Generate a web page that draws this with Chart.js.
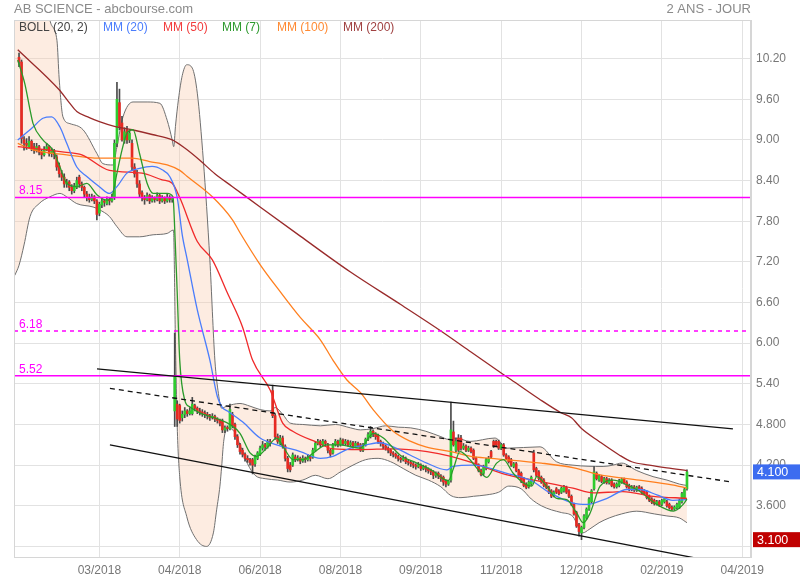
<!DOCTYPE html>
<html><head><meta charset="utf-8">
<script src="https://cdn.jsdelivr.net/npm/chart.js@4.4.1/dist/chart.umd.min.js"></script>
<style>html,body{margin:0;padding:0;background:#fff}#wrap{width:800px;height:580px}</style>
</head><body><div id="wrap"><canvas id="c" width="800" height="580"></canvas></div>
<script>
// ---------- DATA ----------
const title = 'AB SCIENCE - abcbourse.com';
const period = '2 ANS - JOUR';
const xTickDays = [34, 66, 98, 130, 162, 194, 226, 258, 290];
const xTickLabels = ['03/2018','04/2018','06/2018','08/2018','09/2018','11/2018','12/2018','02/2019','04/2019'];
const yTickValues = [3.0, 3.6, 4.2, 4.8, 5.4, 6.0, 6.6, 7.2, 7.8, 8.4, 9.0, 9.6, 10.2];
const yTickLabels = ['', '3.600', '4.200', '4.800', '5.40', '6.00', '6.60', '7.20', '7.80', '8.40', '9.00', '9.60', '10.20'];
const legendNames = ['BOLL (20, 2)', 'MM (20)', 'MM (50)', 'MM (7)', 'MM (100)', 'MM (200)'];
const legendColors = ['#444444', '#4a7dfc', '#f23b3b', '#2e9a2e', '#ff8a33', '#a04040'];

const firstDay = 2; // trading-day index of the first candle
const opens = [
 10.22,10.15,9.0,8.95,8.9,8.98,8.9,8.85,8.9,8.82,
 8.78,8.85,8.9,8.8,8.84,8.75,8.62,8.5,8.45,8.35,
 8.38,8.3,8.25,8.3,8.45,8.35,8.3,8.2,8.15,8.12,
 8.16,8.1,7.92,8.04,8.1,8.06,8.12,8.1,8.15,8.95,
 9.55,9.25,9.0,9.15,9.0,8.95,8.6,8.5,8.35,8.22,
 8.15,8.12,8.18,8.1,8.15,8.12,8.18,8.1,8.14,8.1,
 8.15,8.12,5.0,5.1,5.08,4.9,4.95,5.0,4.96,4.96,
 5.08,5.04,5.0,4.98,4.97,4.95,4.93,4.9,4.92,4.88,
 4.86,4.85,4.72,4.75,4.74,4.95,4.8,4.62,4.5,4.42,
 4.36,4.3,4.28,4.28,4.22,4.3,4.36,4.45,4.5,4.47,
 4.55,5.3,4.93,4.62,4.52,4.6,4.48,4.3,4.2,4.2,
 4.32,4.28,4.3,4.26,4.3,4.28,4.32,4.32,4.42,4.52,
 4.55,4.5,4.55,4.5,4.42,4.38,4.5,4.55,4.5,4.57,
 4.52,4.55,4.5,4.53,4.48,4.52,4.5,4.42,4.5,4.58,
 4.62,4.7,4.66,4.64,4.55,4.52,4.48,4.45,4.42,4.38,
 4.36,4.33,4.3,4.28,4.3,4.25,4.24,4.22,4.2,4.18,
 4.2,4.15,4.17,4.14,4.12,4.1,4.05,4.08,4.04,4.02,
 3.96,3.92,3.98,4.69,4.42,4.6,4.6,4.45,4.48,4.42,
 4.45,4.42,4.3,4.2,4.12,4.08,4.15,4.25,4.4,4.55,
 4.55,4.55,4.45,4.5,4.35,4.32,4.28,4.18,4.22,4.12,
 4.08,4.0,3.92,3.88,3.92,4.38,4.15,4.1,4.02,3.98,
 3.92,3.87,3.82,3.75,3.85,3.82,3.8,3.82,3.87,3.82,
 3.74,3.62,3.5,3.32,3.2,3.28,3.42,3.55,3.66,3.85,
 4.08,3.98,4.03,3.95,4.0,3.94,3.98,3.92,3.88,3.9,
 3.95,3.99,3.95,3.9,3.84,3.88,3.83,3.88,3.86,3.82,
 3.8,3.74,3.7,3.68,3.63,3.66,3.62,3.66,3.66,3.62,
 3.58,3.55,3.57,3.58,3.66,3.72,3.85
];
const highs = [
 10.28,10.18,9.05,9.02,9.05,9.0,8.95,8.95,8.92,8.86,
 8.9,8.95,8.92,8.88,8.86,8.78,8.66,8.55,8.5,8.42,
 8.4,8.34,8.36,8.45,8.48,8.38,8.32,8.24,8.2,8.2,
 8.18,8.12,8.08,8.14,8.12,8.16,8.14,8.2,9.0,9.85,
 9.75,9.35,9.18,9.2,9.15,9.0,8.65,8.55,8.4,8.25,
 8.18,8.22,8.2,8.18,8.16,8.22,8.2,8.18,8.16,8.2,
 8.18,8.16,6.15,5.15,5.1,5.0,5.05,5.02,5.05,5.2,
 5.1,5.06,5.04,5.02,5.0,4.98,4.95,4.96,4.94,4.9,
 4.88,4.88,4.78,4.78,5.1,4.98,4.82,4.65,4.52,4.45,
 4.38,4.34,4.3,4.3,4.35,4.4,4.48,4.55,4.52,4.58,
 4.58,5.38,4.96,4.66,4.64,4.63,4.5,4.33,4.24,4.38,
 4.35,4.34,4.32,4.34,4.32,4.36,4.34,4.45,4.55,4.58,
 4.57,4.58,4.57,4.52,4.44,4.52,4.58,4.57,4.6,4.59,
 4.58,4.57,4.56,4.55,4.55,4.54,4.52,4.52,4.6,4.68,
 4.77,4.72,4.68,4.66,4.57,4.54,4.5,4.47,4.44,4.4,
 4.38,4.35,4.32,4.34,4.32,4.28,4.26,4.24,4.22,4.24,
 4.22,4.2,4.19,4.16,4.14,4.12,4.1,4.1,4.06,4.04,
 3.98,3.98,5.13,4.85,4.6,4.65,4.64,4.52,4.5,4.48,
 4.47,4.44,4.32,4.22,4.14,4.2,4.3,4.33,4.42,4.57,
 4.57,4.57,4.52,4.52,4.37,4.34,4.3,4.24,4.24,4.14,
 4.1,4.02,3.94,3.97,4.04,4.42,4.17,4.12,4.04,4.0,
 3.94,3.89,3.84,3.82,3.87,3.84,3.88,3.9,3.89,3.84,
 3.76,3.64,3.52,3.34,3.3,3.47,3.57,3.72,3.84,4.18,
 4.1,4.06,4.05,4.02,4.02,4.0,4.0,3.94,3.94,3.99,
 4.01,4.01,3.97,3.92,3.9,3.9,3.89,3.9,3.88,3.84,
 3.82,3.76,3.72,3.7,3.68,3.68,3.7,3.72,3.68,3.64,
 3.6,3.6,3.64,3.7,3.8,3.86,4.13
];
const lows = [
 10.08,8.95,8.85,8.86,8.88,8.84,8.8,8.82,8.78,8.72,
 8.76,8.84,8.76,8.75,8.72,8.55,8.45,8.4,8.3,8.3,
 8.25,8.2,8.22,8.28,8.3,8.25,8.15,8.1,8.08,8.1,
 8.06,7.82,7.88,8.0,8.02,8.04,8.04,8.08,8.12,8.9,
 9.15,8.98,8.95,8.95,8.96,8.55,8.45,8.3,8.15,8.1,
 8.05,8.1,8.06,8.08,8.08,8.1,8.06,8.08,8.06,8.08,
 8.08,8.08,4.77,4.77,4.82,4.85,4.9,4.92,4.94,4.94,
 5.0,4.96,4.94,4.92,4.9,4.88,4.86,4.88,4.84,4.82,
 4.78,4.68,4.68,4.7,4.72,4.75,4.58,4.46,4.36,4.32,
 4.26,4.24,4.2,4.07,4.18,4.28,4.34,4.42,4.42,4.45,
 4.48,4.9,4.58,4.52,4.5,4.45,4.26,4.1,4.1,4.18,
 4.25,4.26,4.22,4.24,4.24,4.26,4.26,4.3,4.4,4.5,
 4.47,4.48,4.48,4.38,4.32,4.36,4.48,4.47,4.48,4.5,
 4.5,4.48,4.48,4.45,4.46,4.47,4.4,4.4,4.48,4.56,
 4.6,4.62,4.58,4.52,4.48,4.44,4.42,4.38,4.34,4.32,
 4.3,4.26,4.24,4.26,4.22,4.2,4.18,4.16,4.14,4.16,
 4.12,4.13,4.1,4.08,4.06,4.0,4.02,4.0,3.96,3.9,
 3.88,3.9,3.95,4.48,4.4,4.4,4.42,4.43,4.4,4.4,
 4.38,4.28,4.2,4.1,4.04,4.06,4.13,4.23,4.3,4.46,
 4.48,4.43,4.43,4.33,4.28,4.23,4.18,4.16,4.1,4.03,
 3.94,3.88,3.85,3.86,3.9,4.1,4.03,3.98,3.93,3.88,
 3.85,3.78,3.72,3.73,3.78,3.76,3.78,3.8,3.78,3.72,
 3.6,3.46,3.28,3.15,3.1,3.26,3.4,3.53,3.64,3.83,
 3.98,3.96,3.94,3.93,3.92,3.92,3.88,3.86,3.86,3.88,
 3.93,3.92,3.86,3.82,3.82,3.81,3.81,3.82,3.78,3.76,
 3.7,3.66,3.63,3.61,3.61,3.59,3.6,3.64,3.58,3.55,
 3.53,3.53,3.55,3.56,3.64,3.7,3.83
];
const closes = [
 10.15,9.02,8.95,8.92,8.98,8.88,8.85,8.9,8.82,8.78,
 8.85,8.9,8.8,8.84,8.78,8.6,8.5,8.45,8.35,8.38,
 8.3,8.25,8.32,8.4,8.35,8.3,8.2,8.15,8.12,8.16,
 8.1,7.9,8.05,8.1,8.08,8.12,8.1,8.15,8.95,9.6,
 9.2,9.0,9.12,9.0,9.1,8.6,8.5,8.35,8.2,8.15,
 8.12,8.18,8.1,8.15,8.12,8.18,8.1,8.14,8.1,8.15,
 8.12,8.12,5.5,4.88,4.86,4.95,5.0,4.96,5.0,5.1,
 5.04,5.0,4.98,4.97,4.95,4.93,4.9,4.92,4.88,4.86,
 4.82,4.72,4.75,4.74,5.02,4.78,4.62,4.5,4.4,4.36,
 4.3,4.28,4.24,4.2,4.32,4.38,4.45,4.5,4.47,4.55,
 4.52,4.93,4.62,4.55,4.6,4.48,4.3,4.15,4.13,4.35,
 4.28,4.3,4.26,4.3,4.28,4.32,4.3,4.42,4.52,4.55,
 4.5,4.55,4.52,4.42,4.36,4.5,4.55,4.5,4.57,4.52,
 4.55,4.5,4.53,4.48,4.52,4.5,4.42,4.5,4.58,4.65,
 4.7,4.66,4.62,4.55,4.52,4.48,4.45,4.42,4.38,4.36,
 4.33,4.3,4.28,4.3,4.25,4.24,4.22,4.2,4.18,4.2,
 4.15,4.17,4.14,4.12,4.1,4.05,4.08,4.04,4.0,3.95,
 3.92,3.96,4.72,4.5,4.55,4.42,4.45,4.48,4.42,4.45,
 4.4,4.3,4.22,4.12,4.06,4.18,4.28,4.3,4.32,4.48,
 4.5,4.45,4.5,4.35,4.3,4.25,4.2,4.22,4.12,4.05,
 3.96,3.9,3.87,3.95,4.02,4.13,4.05,4.0,3.95,3.9,
 3.87,3.8,3.74,3.8,3.8,3.78,3.86,3.88,3.8,3.74,
 3.62,3.48,3.3,3.22,3.28,3.45,3.55,3.7,3.82,4.1,
 4.0,4.04,3.96,4.0,3.94,3.98,3.9,3.88,3.92,3.97,
 3.99,3.94,3.88,3.84,3.88,3.83,3.87,3.84,3.8,3.78,
 3.72,3.68,3.65,3.63,3.66,3.61,3.68,3.7,3.6,3.57,
 3.55,3.58,3.62,3.68,3.78,3.84,4.1
];

// moving averages & bands, read as [day, value]
const mm7 = [[1.5,10.18],[4.3,9.83],[6.4,9.44],[7.6,9.24],[11.5,9.0],[15.5,8.85],[18.3,8.6],[21,8.36],[25,8.31],[29,8.36],[33,8.19],[37,8.11],[39,8.16],[41,8.51],[43,8.85],[45,9.1],[47.4,9.15],[50,8.8],[53,8.36],[55.4,8.21],[61,8.21],[63.3,8.16],[64.2,7.5],[65,6.74],[66,5.75],[68,5.16],[70,5.06],[74,4.97],[82,4.87],[86,4.8],[90,4.67],[94,4.38],[96.6,4.33],[100.6,4.45],[104.6,4.6],[107.2,4.47],[111.2,4.28],[115.2,4.28],[119.2,4.38],[124.5,4.5],[129.8,4.5],[137.8,4.45],[143.1,4.67],[147.1,4.6],[153.7,4.35],[160.4,4.23],[167,4.11],[170,4.02],[173,3.97],[175,4.15],[177.6,4.4],[181.6,4.28],[185.6,4.1],[188.3,4.02],[192.2,4.23],[194.9,4.28],[198.8,4.08],[202.8,3.94],[206.2,3.89],[208.2,4.03],[212.1,3.89],[216.1,3.71],[220.1,3.69],[224.1,3.49],[226.7,3.35],[229.4,3.49],[233.4,3.89],[238.7,3.98],[244,3.91],[249.3,3.81],[256,3.62],[262.6,3.52],[266.5,3.62],[268,3.7]];
const mm20 = [[1.5,9.0],[7.6,9.19],[11.5,9.32],[15,9.34],[18.3,9.19],[21,8.95],[25,8.6],[29,8.46],[34,8.31],[38,8.21],[41,8.31],[45,8.51],[50,8.58],[55,8.61],[59,8.56],[62,8.46],[65,8.15],[67,7.6],[69,7.23],[73,6.49],[78,5.75],[81,5.21],[83,5.05],[85,5.0],[91,4.84],[98,4.6],[104.6,4.5],[114,4.4],[122,4.3],[127,4.33],[132.5,4.43],[140.5,4.5],[145.8,4.53],[151,4.47],[157.7,4.35],[164.4,4.23],[172.3,4.13],[174.8,4.18],[182.8,4.2],[196.3,4.08],[205.5,3.98],[213.5,3.79],[222.6,3.64],[228.2,3.62],[236.2,3.71],[244.1,3.84],[249.3,3.84],[256,3.76],[262.4,3.68],[268,3.69]];
const mm50 = [[1.5,8.9],[20,8.82],[27,8.78],[38,8.55],[51,8.51],[59,8.41],[63,8.36],[66,8.15],[73,7.5],[79,7.23],[85,6.74],[91,6.24],[95,5.75],[102,5.31],[107,4.82],[111,4.7],[121,4.53],[127,4.44],[138,4.43],[151,4.44],[164.5,4.4],[174,4.33],[183,4.23],[196,4.06],[209.5,3.96],[222.6,3.86],[230.6,3.79],[242.5,3.81],[254.5,3.74],[268,3.71]];
const mm100 = [[1.5,8.95],[8,8.85],[21,8.78],[34,8.73],[47,8.73],[54,8.68],[61,8.63],[66,8.55],[69,8.46],[79,8.16],[87,7.82],[90,7.63],[98,7.16],[106,6.76],[114,6.38],[122,6.05],[127,5.75],[132.5,5.46],[138,5.27],[143,5.02],[151,4.7],[158,4.55],[164,4.47],[174,4.4],[182,4.33],[190,4.3],[210,4.23],[223,4.16],[233,4.06],[249,3.98],[262,3.91],[268,3.86]];
const mm200 = [[1.5,10.33],[18,9.74],[22,9.55],[25,9.42],[30,9.33],[34,9.27],[40,9.2],[47,9.15],[55,9.08],[63,9.0],[68,8.88],[74,8.7],[80,8.5],[87,8.31],[98,8.01],[114,7.58],[134,7.05],[154,6.57],[170,6.18],[182,5.87],[194,5.56],[198,5.46],[209,5.18],[218,4.97],[222,4.9],[226,4.74],[233,4.55],[241,4.35],[246,4.25],[253,4.2],[260,4.16],[268,4.12]];
const bollUpper = [[0.3,12.5],[8,12.5],[12,11.6],[14.3,10.77],[17.1,10.47],[18,9.9],[19.5,9.34],[22.3,9.24],[27.5,9.15],[33,8.8],[35.4,8.65],[39.4,8.63],[41,8.9],[43.4,9.34],[47.4,9.56],[53,9.56],[58.1,9.54],[61,9.29],[63,9.0],[63.6,8.9],[64.3,9.2],[65.5,9.6],[67,9.95],[68.8,10.11],[71,10.06],[73,9.69],[75.4,8.7],[78,7.23],[80,5.75],[81.4,5.26],[82.7,5.04],[84.7,5.07],[90,5.11],[94,5.07],[98,5.02],[102,5.0],[104,5.05],[107,4.95],[110,4.82],[115,4.8],[122,4.78],[128,4.8],[134,4.75],[138,4.72],[143,4.74],[148,4.78],[153,4.76],[158,4.75],[164,4.7],[170,4.62],[173,4.58],[176,4.6],[181.6,4.55],[191.6,4.6],[196.3,4.45],[209.5,4.47],[216,4.25],[222.6,4.2],[234.6,4.18],[238.5,4.2],[242,4.23],[248,4.12],[254.5,4.03],[260,3.98],[265,3.92],[268,3.9]];
const bollLower = [[0.3,7.0],[2,7.15],[4,7.45],[6.4,7.87],[10,8.06],[14.3,8.16],[18.3,8.21],[21,8.16],[25,8.06],[31.5,8.01],[34,7.97],[38,7.87],[41,7.72],[45,7.57],[50,7.57],[55.4,7.6],[61,7.62],[63.5,7.67],[64.3,6.0],[65,4.77],[66,4.03],[68.8,3.44],[72.7,3.1],[76.7,3.0],[79.4,3.2],[80.7,3.54],[82,3.89],[82.7,4.18],[83.5,4.55],[85,4.75],[88,4.68],[90,4.5],[93,4.22],[96,4.05],[100,4.0],[105,3.98],[110,3.95],[115,3.98],[120,4.05],[125,4.0],[130,4.1],[135,4.2],[140,4.28],[145,4.3],[150,4.25],[155,4.15],[160,4.05],[165,3.98],[170,3.88],[174,3.75],[178,3.72],[183,3.74],[188,3.76],[193,3.8],[197,3.89],[202,3.85],[206,3.7],[210,3.6],[214,3.54],[218,3.5],[222.6,3.44],[224.6,3.3],[226.5,3.2],[229,3.25],[233,3.35],[237,3.42],[242,3.48],[248,3.52],[255,3.48],[260,3.45],[265,3.42],[268,3.35]];

// drawn trend channel and horizontal levels
const channelUpper = [[33.05, 5.62], [286.3, 4.736]];
const channelMid = [[38.2, 5.333], [286.3, 3.948]];
const channelLower = [[38.2, 4.50], [281, 2.76]];
const levels = [8.15, 6.18, 5.52];
const levelLabels = ['8.15', '6.18', '5.52'];
const levelDashed = [false, true, false];
const lastPrice = 4.1;
const lowPrice = 3.1;
const lastPriceLabel = '4.100';
const lowPriceLabel = '3.100';

// ---------- CHART ----------
const X_MIN = 0, X_MAX = 293.5;
const FONT = "'Liberation Sans', Arial, sans-serif";
Chart.defaults.font.family = FONT;

const toXY = arr => arr.map(p => ({x: p[0], y: p[1]}));
const wickData = lows.map((l, i) => ({x: firstDay + i, y: [l, highs[i]]}));
const bodyData = opens.map((o, i) => ({x: firstDay + i, y: [o, closes[i]]}));
const bodyColors = opens.map((o, i) => closes[i] >= o ? '#2ecc2e' : '#e62a22');

const lineDs = (label, pts, color, order, extra) => Object.assign({
  type: 'line', label, data: toXY(pts), borderColor: color, backgroundColor: color, borderWidth: 1.3,
  pointRadius: 0, fill: false, cubicInterpolationMode: 'monotone', order
}, extra || {});

const datasets = [
  lineDs('bollUpper', bollUpper, '#707070', 101, {borderWidth: 1, fill: '+1', backgroundColor: 'rgba(250,200,170,0.35)'}),
  lineDs('bollLower', bollLower, '#707070', 100, {borderWidth: 1}),
  {type: 'bar', label: 'wicks', data: wickData, backgroundColor: '#4a4a4a', barThickness: 1, grouped: false, order: 90},
  {type: 'bar', label: 'bodies', data: bodyData, backgroundColor: bodyColors, barThickness: 2, minBarLength: 1, grouped: false, order: 80},
  lineDs('MM200', mm200, '#992a2a', 14),
  lineDs('MM100', mm100, '#ff7f1e', 13),
  lineDs('MM50', mm50, '#f02a2a', 12),
  lineDs('MM20', mm20, '#4a7dfc', 11),
  lineDs('MM7', mm7, '#2a9a2a', 10),
];
levels.forEach((v, i) => datasets.push({
  type: 'line', label: 'level' + i, data: [{x: X_MIN, y: v}, {x: X_MAX, y: v}],
  borderColor: '#ff00ff', backgroundColor: '#ff00ff', borderWidth: 1.5, borderDash: levelDashed[i] ? [4, 4] : [0, 0],
  pointRadius: 0, fill: false, tension: 0, order: 5
}));
[[channelUpper, []], [channelMid, [5, 4]], [channelLower, []]].forEach((c, i) => datasets.push({
  type: 'line', label: 'channel' + i, data: toXY(c[0]), borderColor: '#111', backgroundColor: '#111', borderWidth: 1.3,
  borderDash: c[1], pointRadius: 0, fill: false, order: 3
}));

const overlay = {
  id: 'overlay',
  beforeDraw(chart) {
    const ctx = chart.ctx;
    ctx.save(); ctx.fillStyle = '#fff'; ctx.fillRect(0, 0, chart.width, chart.height); ctx.restore();
  },
  afterDraw(chart) {
    const {ctx, chartArea: a, scales: {y}} = chart;
    ctx.save();
    ctx.strokeStyle = '#d6d6d6'; ctx.lineWidth = 1;
    ctx.strokeRect(a.left + 0.5, a.top + 0.5, a.right - a.left - 1, a.bottom - a.top);
    ctx.textBaseline = 'middle';
    ctx.font = '13px ' + FONT; ctx.fillStyle = '#8a8a8a';
    ctx.textAlign = 'left'; ctx.fillText(title, 14, 9);
    ctx.textAlign = 'right'; ctx.fillText(period, a.right, 9);
    // legend
    const lx = [19, 103, 163, 222, 277, 343];
    ctx.font = '12px ' + FONT; ctx.textAlign = 'left';
    legendNames.forEach((n, i) => { ctx.fillStyle = legendColors[i]; ctx.fillText(n, lx[i], 28); });
    // level labels
    ctx.fillStyle = '#ff00ff';
    levels.forEach((v, i) => ctx.fillText(levelLabels[i], a.left + 5, y.getPixelForValue(v) - 6.5));
    // price tags
    const tag = (v, txt, color) => {
      const py = y.getPixelForValue(v);
      ctx.fillStyle = color; ctx.fillRect(a.right + 2, py - 7.5, chart.width - a.right - 2, 15);
      ctx.fillStyle = '#fff'; ctx.font = '12.5px ' + FONT; ctx.fillText(txt, a.right + 6, py + 0.5);
    };
    tag(lastPrice, lastPriceLabel, '#3c6cf0');
    tag(lowPrice, lowPriceLabel, '#c00000');
    ctx.restore();
  }
};

new Chart(document.getElementById('c'), {
  type: 'bar',
  data: {datasets},
  options: {
    responsive: false, animation: false, devicePixelRatio: 1, events: [],
    layout: {padding: {left: 14, top: 20, right: 0, bottom: 0}},
    plugins: {legend: {display: false}, tooltip: {enabled: false}},
    scales: {
      x: {
        type: 'linear', min: X_MIN, max: X_MAX, offset: false,
        afterBuildTicks: s => { s.ticks = xTickDays.map(v => ({value: v})); },
        afterFit: s => { s.height = 23; },
        grid: {color: '#e2e2e2', drawTicks: false, offset: false},
        border: {color: '#d6d6d6'},
        ticks: {padding: 6, color: '#777', maxRotation: 0, autoSkip: false, font: {size: 12},
          callback: v => { const i = xTickDays.indexOf(v); return i >= 0 ? xTickLabels[i] : ''; }}
      },
      y: {
        type: 'linear', position: 'right', min: 2.844, max: 10.77, beginAtZero: false,
        afterBuildTicks: s => { s.ticks = yTickValues.map(v => ({value: v})); },
        afterFit: s => { s.width = 49; },
        grid: {color: '#e2e2e2', drawTicks: false},
        border: {color: '#d6d6d6'},
        ticks: {padding: 5, color: '#777', font: {size: 12},
          callback: v => { const i = yTickValues.findIndex(t => Math.abs(t - v) < 1e-6); return i >= 0 ? yTickLabels[i] : ''; }}
      }
    }
  },
  plugins: [overlay]
});
</script>
</body></html>
